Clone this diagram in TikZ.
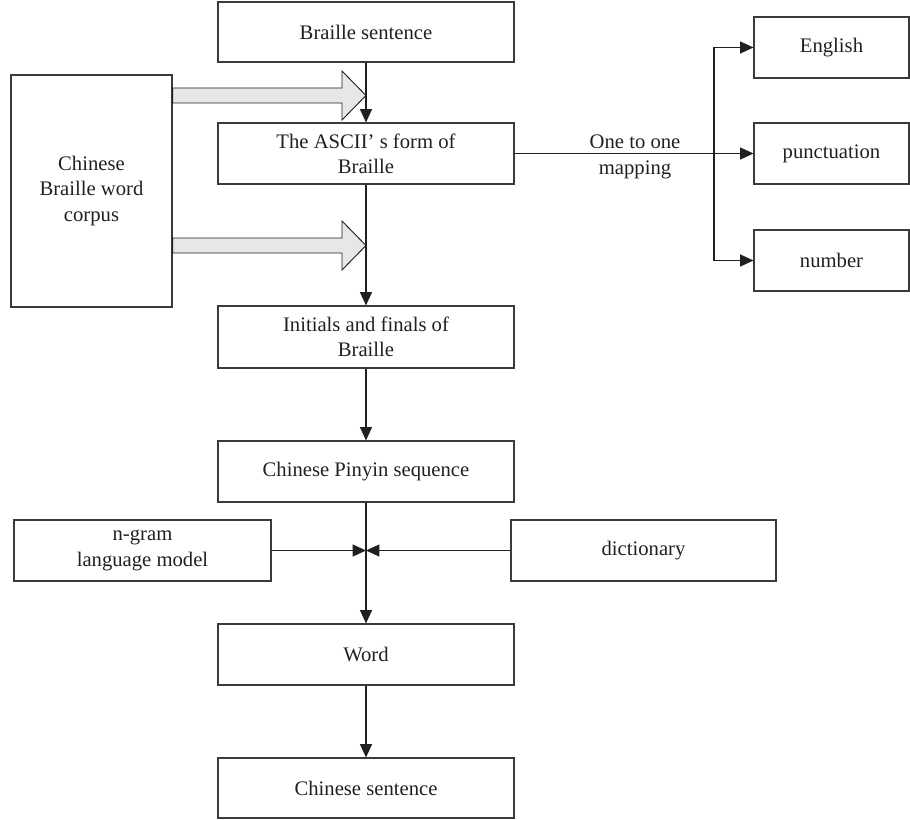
\documentclass[tikz,border=0pt]{standalone}
\usepackage{fontspec}
\setmainfont{Liberation Serif}
\usetikzlibrary{arrows.meta}
\definecolor{ink}{HTML}{231F20}
\definecolor{boxline}{HTML}{3A3A3A}
\definecolor{blockfill}{HTML}{E6E7E8}
\begin{document}
\begin{tikzpicture}[x=0.75pt,y=-0.75pt,
  every node/.style={font=\fontsize{15.5}{19}\selectfont, text=ink},
  box/.style={draw=boxline, line width=0.8pt, align=center, inner sep=0pt},
  conn/.style={draw=ink, line width=0.8pt},
  arr/.style={conn, -{Triangle[length=10pt,width=9pt]}},
  blockarrow/.style={draw=ink, line width=0.7pt, fill=blockfill, line join=miter}]
\useasboundingbox (0,0) rectangle (910,820);
% main column
\node[box, minimum width=222pt, minimum height=45pt] (bs) at (366,32) {Braille sentence};
\node[box, minimum width=222pt, minimum height=45.75pt] (ascii) at (366,153.5) {The ASCII’ s form of\\Braille};
\node[box, minimum width=222pt, minimum height=46.5pt] (init) at (366,337) {Initials and finals of\\Braille};
\node[box, minimum width=222pt, minimum height=45.75pt] (pinyin) at (366,471.5) {Chinese Pinyin sequence};
\node[box, minimum width=192.75pt, minimum height=45.75pt] (ngram) at (142.5,550.5) {n-gram\\language model};
\node[box, minimum width=198.75pt, minimum height=45.75pt] (dict) at (643.5,550.5) {dictionary};
\node[box, minimum width=222pt, minimum height=45.75pt] (word) at (366,654.5) {Word};
\node[box, minimum width=222pt, minimum height=45pt] (cs) at (366,788) {Chinese sentence};
% corpus
\node[box, minimum width=120.75pt, minimum height=174pt] (corpus) at (91.5,191) {Chinese\\Braille word\\corpus};
% right boxes
\node[box, minimum width=116.25pt, minimum height=45.75pt] (eng) at (831.5,47.5) {English};
\node[box, minimum width=116.25pt, minimum height=45.75pt] (punct) at (831.5,153.5) {punctuation};
\node[box, minimum width=116.25pt, minimum height=45.75pt] (num) at (831.5,260.5) {number};
% block arrows
\path[blockarrow] (corpus.east |- 0,88) -- (342,88) -- (342,71) -- (366,95.5) -- (342,120) -- (342,103) -- (corpus.east |- 0,103) -- cycle;
\path[blockarrow] (corpus.east |- 0,238) -- (342,238) -- (342,221) -- (366,245.5) -- (342,270) -- (342,253) -- (corpus.east |- 0,253) -- cycle;
% main connectors
\draw[arr] (bs.south) -- (ascii.north);
\draw[arr] (ascii.south) -- (init.north);
\draw[arr] (init.south) -- (pinyin.north);
\draw[arr] (pinyin.south) -- (word.north);
\draw[arr] (word.south) -- (cs.north);
\coordinate (jn) at (366,550.5);
\draw[arr] (ngram.east) -- (jn);
\draw[arr] (dict.west) -- (jn);
% mapping
\coordinate (br) at (714,153.5);
\draw[conn, line width=1.3pt] (ascii.east) -- (br);
\draw[arr] (br) -- (punct.west);
\draw[arr] (br) |- (eng.west);
\draw[arr] (br) |- (num.west);
\node[align=center, inner sep=0pt] (maplabel) at (635,157) {One to one\\mapping};
\end{tikzpicture}
\end{document}
